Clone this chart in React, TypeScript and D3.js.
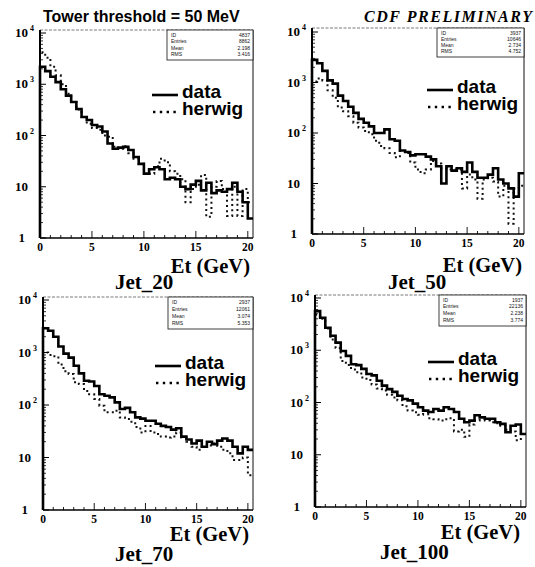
import React from "react";
import * as d3 from "d3";

// ---------- DATA ----------
const BIN_WIDTH = 0.5;
const X_MAX = 20.5;
const xTickValues = [0, 5, 10, 15, 20];
const xMinorTicks = d3.range(0, 21, 1);
const yDecades = [1, 10, 100, 1000, 10000];
const yTickLabels = [
  { base: "1", exp: "" },
  { base: "10", exp: "" },
  { base: "10", exp: "2" },
  { base: "10", exp: "3" },
  { base: "10", exp: "4" },
];
const statLabels = ["ID", "Entries", "Mean", "RMS"];
const legendLabels = ["data", "herwig"];
const panelNames = ["Jet_20", "Jet_50", "Jet_70", "Jet_100"];
const xAxisTitle = "Et (GeV)";
const mainTitle = "Tower threshold = 50 MeV";
const prelimLabel = "CDF PRELIMINARY";

const jet20Data = [2200, 1800, 1400, 1100, 800, 600, 450, 330, 230, 200, 160, 150, 120, 70, 55, 58, 60, 52, 38, 28,
  18, 22, 24, 22, 14, 15, 14, 10, 9, 11, 13, 8.5, 12, 7.5, 8.5, 8, 9, 12, 8, 5, 2.4];
const jet20Herwig = [4200, 3300, 2200, 1500, 1000, 650, 450, 320, 230, 170, 140, 130, 100, 95, 60, 55, 62, 45, 35, 28,
  22, 18, 25, 35, 30, 20, 18, 14, 5, 9, 11, 17, 2.6, 10, 13, 9, 2.7, 10, 2.7, 9, 5];

const jet50Data = [2800, 2400, 1700, 1100, 950, 550, 430, 330, 250, 190, 160, 135, 100, 100, 118, 75, 70, 45, 42, 36,
  38, 38, 34, 30, 22, 10, 22, 18, 20, 17, 26, 17, 13, 13, 15, 20, 12, 10, 8, 5.5, 16];
const jet50Herwig = [1050, 1200, 1100, 700, 500, 320, 270, 215, 160, 128, 110, 95, 70, 55, 50, 40, 33, 44, 40, 26,
  19, 16, 19, 28, 25, 20, 19, 19, 19, 8, 15, 12, 5, 12, 13, 11, 5.5, 9, 1.6, 8, 9];

const jet70Data = [2900, 2600, 2000, 1300, 950, 800, 560, 400, 290, 280, 230, 160, 150, 140, 112, 84, 88, 73, 58, 55,
  50, 50, 44, 40, 38, 34, 36, 25, 22, 18.5, 21, 16, 20, 18, 21, 23, 21, 16, 12, 16, 14];
const jet70Herwig = [1000, 900, 850, 590, 440, 390, 270, 250, 185, 160, 130, 97, 73, 73, 78, 58, 54, 48, 38, 30,
  40, 30, 28, 25, 24, 25, 30, 24, 20, 16, 14, 16, 17, 18.5, 16, 14, 12, 9, 9, 10, 4.6];

const jet100Data = [5600, 4200, 2700, 1900, 1400, 970, 780, 540, 520, 440, 350, 330, 260, 210, 180, 160, 135, 117, 110, 95,
  81, 70, 66, 75, 70, 81, 75, 66, 49, 42, 45, 57, 52, 49, 49, 42, 39, 27, 36, 38, 25];
const jet100Herwig = [4800, 4000, 2600, 1600, 1100, 620, 520, 430, 380, 300, 270, 220, 185, 170, 140, 125, 110, 85, 70, 65,
  58, 60, 50, 48, 45, 48, 50, 28, 30, 22, 38, 45, 46, 45, 42, 40, 36, 30, 28, 19, 25];

const jet20Stats = ["4837", "8862", "2.198", "3.416"];
const jet50Stats = ["3937", "10646", "2.734", "4.752"];
const jet70Stats = ["2937", "12061", "3.074", "5.353"];
const jet100Stats = ["1937", "22136", "2.238", "3.774"];

const seriesData = [jet20Data, jet50Data, jet70Data, jet100Data];
const seriesHerwig = [jet20Herwig, jet50Herwig, jet70Herwig, jet100Herwig];
const seriesStats = [jet20Stats, jet50Stats, jet70Stats, jet100Stats];

// ---------- LAYOUT ----------
const layouts = [
  { left: 40, right: 253, top: 30, yTop: 33, yBottom: 238, statW: 86, statH: 30,
    legX: 152, legY: 98, etEnd: 250, etBase: 273, jetX: 115, jetBase: 289 },
  { left: 312, right: 524, top: 28, yTop: 32, yBottom: 234, statW: 87, statH: 29,
    legX: 427, legY: 93, etEnd: 522, etBase: 272, jetX: 388, jetBase: 289 },
  { left: 43, right: 253, top: 297, yTop: 300, yBottom: 510, statW: 85, statH: 32,
    legX: 155, legY: 369, etEnd: 249, etBase: 541, jetX: 115, jetBase: 561 },
  { left: 315, right: 526, top: 295, yTop: 298, yBottom: 507, statW: 87, statH: 31,
    legX: 428, legY: 365, etEnd: 520, etBase: 539, jetX: 380, jetBase: 559 },
];

const SERIF = "'Liberation Serif', 'Times New Roman', serif";
const SANS = "'Liberation Sans', Arial, Helvetica, sans-serif";

function stepPath(values: number[], x: d3.ScaleLinear<number, number>, y: d3.ScaleLogarithmic<number, number>) {
  const pts: [number, number][] = [[x(0), y(1)]];
  values.forEach((v, i) => {
    const x0 = x(i * BIN_WIDTH);
    const x1 = x((i + 1) * BIN_WIDTH);
    pts.push([x0, y(v)]);
    pts.push([x1, y(v)]);
  });
  return d3.line()(pts) as string;
}

function Panel({ idx }: { idx: number }) {
  const L = layouts[idx];
  const x = d3.scaleLinear().domain([0, X_MAX]).range([L.left, L.right]);
  const y = d3.scaleLog().domain([1, 10000]).range([L.yBottom, L.yTop]);
  const minorY: number[] = [];
  for (let d = 0; d < 4; d++) {
    for (let m = 2; m <= 9; m++) minorY.push(m * Math.pow(10, d));
  }
  const stats = seriesStats[idx];
  const sx = L.right - L.statW;
  return (
    <g>
      {/* frame */}
      <line x1={L.left} x2={L.right} y1={L.top} y2={L.top} stroke="#555" strokeWidth={0.8} strokeDasharray="3,1.5" />
      <line x1={L.right} x2={L.right} y1={L.top} y2={L.yBottom} stroke="#111" strokeWidth={1} />
      {/* histograms */}
      <path d={stepPath(seriesHerwig[idx], x, y)} fill="none" stroke="#111" strokeWidth={2} strokeDasharray="2,3.2" />
      <path d={stepPath(seriesData[idx], x, y)} fill="none" stroke="#000" strokeWidth={2.6} />
      {/* axes */}
      <line x1={L.left} x2={L.left} y1={L.top} y2={L.yBottom} stroke="#000" strokeWidth={2} />
      <line x1={L.left} x2={L.right} y1={L.yBottom} y2={L.yBottom} stroke="#000" strokeWidth={1.6} />
      {yDecades.map((v) => (
        <line key={"ym" + v} x1={L.left} x2={L.left + 6} y1={y(v)} y2={y(v)} stroke="#000" strokeWidth={1} />
      ))}
      {minorY.map((v) => (
        <line key={"yn" + v} x1={L.left} x2={L.left + 3} y1={y(v)} y2={y(v)} stroke="#000" strokeWidth={0.8} />
      ))}
      {xMinorTicks.map((v) => (
        <line key={"xn" + v} x1={x(v)} x2={x(v)} y1={L.yBottom} y2={L.yBottom - (v % 5 === 0 ? 7 : 3)} stroke="#000" strokeWidth={0.9} />
      ))}
      {xTickValues.map((v) => (
        <text key={"xl" + v} x={x(v)} y={L.yBottom + 13} fontFamily={SERIF} fontWeight="bold" fontSize={11.5} textAnchor="middle">{v}</text>
      ))}
      {yDecades.map((v, i) => (
        <g key={"yl" + v}>
          <text x={L.left - (yTickLabels[i].exp ? 12 : i === 0 ? 15 : 12)} y={y(v) + 4} fontFamily={SERIF} fontWeight="bold" fontSize={13} textAnchor="end">{yTickLabels[i].base}</text>
          {yTickLabels[i].exp && (
            <text x={L.left - 10} y={y(v) - 2} fontFamily={SERIF} fontWeight="bold" fontSize={8}>{yTickLabels[i].exp}</text>
          )}
        </g>
      ))}
      {/* stats box */}
      <rect x={sx} y={L.top} width={L.statW} height={L.statH} fill="#fff" stroke="#111" strokeWidth={0.8} />
      {statLabels.map((lab, i) => (
        <g key={lab}>
          <text x={sx + 4} y={L.top + 6.5 + i * (L.statH - 4) / 4} fontFamily={SANS} fontSize={5} fill="#111">{lab}</text>
          <text x={L.right - 3} y={L.top + 6.5 + i * (L.statH - 4) / 4} fontFamily={SANS} fontSize={5} fill="#111" textAnchor="end">{stats[i]}</text>
        </g>
      ))}
      {/* legend */}
      <line x1={L.legX} x2={L.legX + 26} y1={L.legY - 3} y2={L.legY - 3} stroke="#000" strokeWidth={2.6} />
      <text x={L.legX + 30} y={L.legY} fontFamily={SANS} fontWeight="bold" fontSize={19}>{legendLabels[0]}</text>
      <line x1={L.legX + 1} x2={L.legX + 26} y1={L.legY + 14} y2={L.legY + 14} stroke="#000" strokeWidth={2.4} strokeDasharray="2.4,4.4" />
      <text x={L.legX + 30} y={L.legY + 17} fontFamily={SANS} fontWeight="bold" fontSize={19}>{legendLabels[1]}</text>
      {/* titles */}
      <text x={L.etEnd} y={L.etBase} fontFamily={SERIF} fontWeight="bold" fontSize={20.5} textAnchor="end">{xAxisTitle}</text>
      <text x={L.jetX} y={L.jetBase} fontFamily={SERIF} fontWeight="bold" fontSize={21}>{panelNames[idx]}</text>
    </g>
  );
}

export default function App() {
  return (
    <svg width={535} height={567} style={{ position: "absolute", left: 0, top: 0, background: "#fff" }}>
      <rect x={0} y={0} width={535} height={567} fill="#fff" />
      <text x={43} y={22} fontFamily={SANS} fontWeight="bold" fontSize={16}>{mainTitle}</text>
      <text x={364} y={22} fontFamily={SERIF} fontWeight="bold" fontStyle="italic" fontSize={16} textLength={168} lengthAdjust="spacing">{prelimLabel}</text>
      {layouts.map((_, i) => <Panel key={i} idx={i} />)}
    </svg>
  );
}
